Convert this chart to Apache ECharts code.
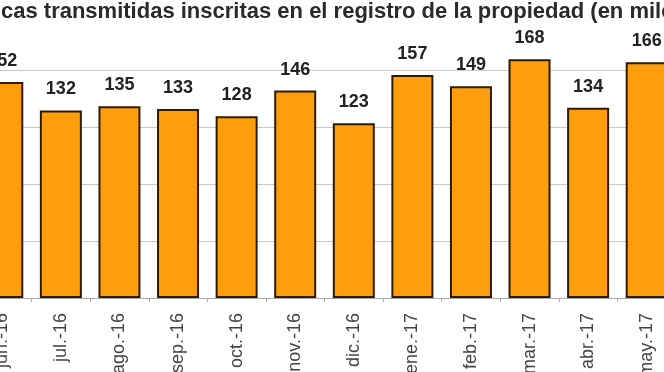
<!DOCTYPE html>
<html>
<head>
<meta charset="utf-8">
<script src="https://cdn.jsdelivr.net/npm/echarts@6/dist/echarts.min.js"></script>
<style>html,body{margin:0;padding:0;background:#fff;}#c{width:664px;height:372px;}</style>
</head>
<body>
<div id="c"></div>
<script>
var titleText = "Fincas transmitidas inscritas en el registro de la propiedad (en miles)";
var categories = ["jun.-16","jul.-16","ago.-16","sep.-16","oct.-16","nov.-16","dic.-16","ene.-17","feb.-17","mar.-17","abr.-17","may.-17"];
var values = [152,132,135,133,128,146,123,157,149,168,134,166];

var chart = echarts.init(document.getElementById('c'), null, {renderer:'canvas'});
chart.setOption({
  animation:false,
  backgroundColor:'#ffffff',
  graphic:[{
    type:'text', x:-32, y:1,
    style:{text:titleText, fontFamily:'Liberation Sans, Arial, sans-serif', fontWeight:'bold', fontSize:22, fill:'#2a2a2a', textVerticalAlign:'top'}
  }],
  grid:{left:-27, right:-12, top:70.7, bottom:74, containLabel:false, outerBoundsMode:'none'},
  xAxis:{
    type:'category', data:categories,
    axisLine:{show:true, lineStyle:{color:'#aaaaaa', width:1}},
    axisTick:{show:true, length:4, lineStyle:{color:'#aaaaaa'}},
    axisLabel:{rotate:90, margin:15, fontFamily:'Liberation Sans, Arial, sans-serif', fontSize:18, color:'#444444'}
  },
  yAxis:{
    type:'value', min:0, max:160, interval:40,
    axisLabel:{show:false}, axisLine:{show:false}, axisTick:{show:false},
    splitLine:{show:true, lineStyle:{color:'#c8c8c8', width:1}}
  },
  series:[{
    type:'bar', data:values, barWidth:42, clip:false,
    itemStyle:{color:'#FF9E0C', borderColor:'#2e1c00', borderWidth:2},
    label:{show:true, position:'top', distance:12, fontFamily:'Liberation Sans, Arial, sans-serif', fontWeight:'bold', fontSize:18, color:'#222222'}
  }]
});
</script>
</body>
</html>
